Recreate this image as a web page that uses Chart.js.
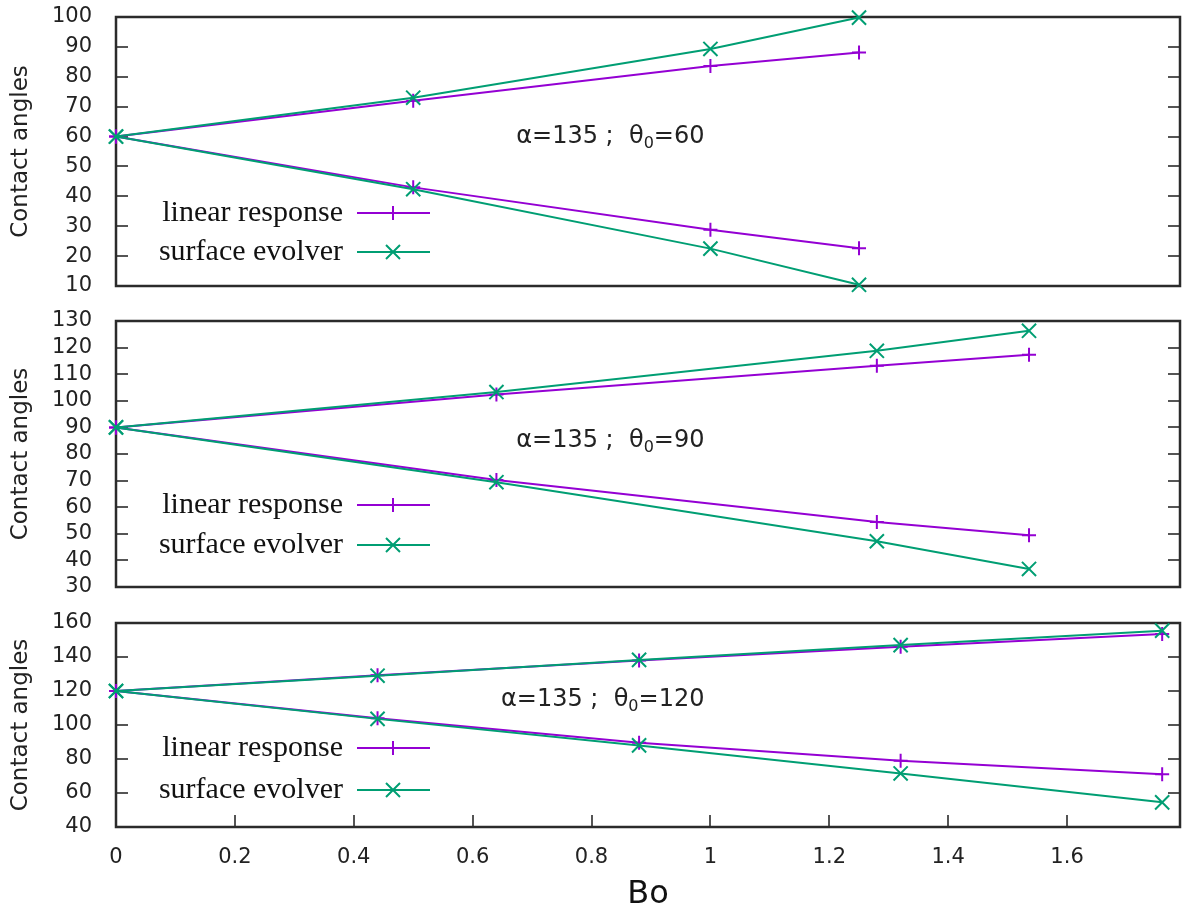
<!DOCTYPE html>
<html lang="en">
<head>
<meta charset="UTF-8">
<title>Contact angles vs Bo</title>
<script src="https://cdn.jsdelivr.net/npm/chart.js@4.4.9/dist/chart.umd.js"></script>
<style>
  body { margin: 0; background: #fff; }
  .panel { position: absolute; left: 0; width: 1182px; }
</style>
</head>
<body>
<div class="panel" style="top:0;height:300px"><canvas id="p1" width="1182" height="300"></canvas></div>
<div class="panel" style="top:300px;height:305px"><canvas id="p2" width="1182" height="305"></canvas></div>
<div class="panel" style="top:605px;height:308px"><canvas id="p3" width="1182" height="308"></canvas></div>
<script>
// --- data ---
const alpha = 135;

// theta0 = 60
const bo60 = [0, 0.5, 1.0, 1.25];
const linUp60 = [60, 72.0, 83.6, 88.1];
const linDown60 = [60, 43.0, 28.8, 22.6];
const seUp60 = [60, 73.0, 89.3, 99.8];
const seDown60 = [60, 42.4, 22.5, 10.4];

// theta0 = 90
const bo90 = [0, 0.64, 1.28, 1.536];
const linUp90 = [90, 102.4, 113.2, 117.3];
const linDown90 = [90, 70.2, 54.4, 49.5];
const seUp90 = [90, 103.3, 118.8, 126.3];
const seDown90 = [90, 69.4, 47.2, 36.8];

// theta0 = 120
const bo120 = [0, 0.44, 0.88, 1.32, 1.76];
const linUp120 = [120, 129.3, 138.0, 146.0, 153.5];
const linDown120 = [120, 104.0, 89.6, 79.0, 71.0];
const seUp120 = [120, 129.0, 138.3, 147.0, 155.5];
const seDown120 = [120, 103.6, 88.0, 71.5, 54.5];

const xTicks = [0, 0.2, 0.4, 0.6, 0.8, 1, 1.2, 1.4, 1.6];
const LIN = 'linear response', SE = 'surface evolver';
const purple = '#9400d3', green = '#009e73';

function pts(xs, ys) { return xs.map((x, i) => ({x: x, y: ys[i]})); }

function series(label, xs, ys) {
  const lin = label === LIN;
  return {
    label: label,
    data: pts(xs, ys),
    showLine: true,
    borderColor: lin ? purple : green,
    backgroundColor: lin ? purple : green,
    borderWidth: 2,
    pointStyle: lin ? 'cross' : 'crossRot',
    pointRadius: lin ? 7 : 10,
    pointBorderWidth: 2,
    pointHoverRadius: lin ? 7 : 10,
    clip: false,
    order: lin ? 1 : 0
  };
}

// frame, inward ticks and the alpha/theta label
const framePlugin = {
  id: 'frame',
  beforeDatasetsDraw(chart) {
    const {ctx, chartArea: a, scales: {x, y}} = chart;
    const o = chart.options.plugins.frame;
    ctx.save();
    ctx.strokeStyle = '#555';
    ctx.lineWidth = 2;
    ctx.beginPath();
    y.ticks.forEach(t => {
      const py = Math.round(y.getPixelForValue(t.value));
      ctx.moveTo(a.left, py); ctx.lineTo(a.left + 12, py);
      ctx.moveTo(a.right, py); ctx.lineTo(a.right - 12, py);
    });
    if (o.xTicks) {
      x.ticks.forEach(t => {
        const px = Math.round(x.getPixelForValue(t.value));
        ctx.moveTo(px, a.bottom); ctx.lineTo(px, a.bottom - 12);
      });
    }
    ctx.stroke();
    ctx.strokeStyle = '#2b2b2b';
    ctx.lineWidth = 2.5;
    ctx.strokeRect(a.left, a.top, a.right - a.left, a.bottom - a.top);

    // "α=135 ;  θ0=60"
    const p1 = 'α=' + alpha + ' ;  θ', sub = '0', p2 = '=' + o.theta0;
    const big = '24px "DejaVu Sans"', small = '16px "DejaVu Sans"';
    ctx.fillStyle = '#222';
    ctx.textBaseline = 'middle';
    ctx.textAlign = 'left';
    ctx.font = big;
    const w1 = ctx.measureText(p1).width, w3 = ctx.measureText(p2).width;
    ctx.font = small;
    const w2 = ctx.measureText(sub).width;
    let px = x.getPixelForValue(0.99) - (w1 + w2 + w3);
    const py = y.getPixelForValue(o.labelY);
    ctx.font = big;
    ctx.fillText(p1, px, py);
    ctx.font = small;
    ctx.fillText(sub, px + w1, py + 7);
    ctx.font = big;
    ctx.fillText(p2, px + w1 + w2, py);
    ctx.restore();
  },
  afterDatasetsDraw(chart) {
    // key in the lower left: text, then a sample line with its marker
    const {ctx, chartArea: a} = chart;
    const o = chart.options.plugins.frame;
    const seen = [];
    chart.data.datasets.forEach(d => { if (!seen.find(s => s.label === d.label)) seen.push(d); });
    seen.sort((p, q) => (p.label === LIN ? 0 : 1) - (q.label === LIN ? 0 : 1));
    ctx.save();
    seen.forEach((d, i) => {
      const ry = a.bottom - o.keyRows[i];
      ctx.font = '30px "Liberation Serif"';
      ctx.fillStyle = '#111';
      ctx.textAlign = 'right';
      ctx.textBaseline = 'middle';
      ctx.fillText(d.label, a.left + 227, ry);
      ctx.strokeStyle = d.borderColor;
      ctx.lineWidth = 2;
      ctx.beginPath();
      ctx.moveTo(a.left + 241, ry); ctx.lineTo(a.left + 314, ry);
      const cx = a.left + 277;
      if (d.pointStyle === 'cross') {
        ctx.moveTo(cx - 7, ry); ctx.lineTo(cx + 7, ry);
        ctx.moveTo(cx, ry - 7); ctx.lineTo(cx, ry + 7);
      } else {
        ctx.moveTo(cx - 7, ry - 7); ctx.lineTo(cx + 7, ry + 7);
        ctx.moveTo(cx - 7, ry + 7); ctx.lineTo(cx + 7, ry - 7);
      }
      ctx.stroke();
    });
    ctx.restore();
  }
};

function makePanel(id, p) {
  new Chart(document.getElementById(id), {
    type: 'scatter',
    data: {
      datasets: [
        series(LIN, p.bo, p.linUp),
        series(LIN, p.bo, p.linDown),
        series(SE, p.bo, p.seUp),
        series(SE, p.bo, p.seDown)
      ]
    },
    options: {
      responsive: false,
      animation: false,
      events: [],
      layout: { autoPadding: false, padding: { top: p.padTop, bottom: p.padBottom, right: 2, left: 0 } },
      plugins: {
        legend: { display: false },
        tooltip: { enabled: false },
        frame: { xTicks: p.showX, theta0: p.theta0, labelY: p.labelY, keyRows: p.keyRows }
      },
      scales: {
        x: {
          type: 'linear',
          min: 0,
          max: 1.79,
          display: p.showX,
          grid: { display: false },
          border: { display: false },
          afterBuildTicks: s => { s.ticks = xTicks.map(v => ({value: v})); },
          afterFit: s => {
            if (p.showX) s.height = 86;
            s.paddingLeft = 0; s.paddingRight = 0;
          },
          ticks: {
            autoSkip: false,
            maxRotation: 0,
            padding: 10,
            color: '#222',
            font: { family: 'DejaVu Sans', size: 21 },
            callback: v => String(+v.toFixed(1))
          },
          title: {
            display: true,
            text: 'Bo',
            color: '#111',
            font: { family: 'DejaVu Sans', size: 32, lineHeight: 1 },
            padding: { top: 0, bottom: 2 }
          }
        },
        y: {
          min: p.yMin,
          max: p.yMax,
          grid: { display: false },
          border: { display: false },
          afterFit: s => { s.width = 116; s.paddingTop = 0; s.paddingBottom = 0; },
          ticks: {
            autoSkip: false,
            stepSize: p.yStep,
            padding: 16,
            color: '#222',
            font: { family: 'DejaVu Sans', size: 21 }
          },
          title: {
            display: true,
            text: 'Contact angles',
            color: '#222',
            font: { family: 'DejaVu Sans', size: 23, lineHeight: 1 },
            padding: { top: 10, bottom: 0 }
          }
        }
      }
    },
    plugins: [framePlugin]
  });
}

makePanel('p1', { bo: bo60, linUp: linUp60, linDown: linDown60, seUp: seUp60, seDown: seDown60,
  theta0: 60, yMin: 10, yMax: 100, yStep: 10, padTop: 17, padBottom: 14, showX: false,
  labelY: 60, keyRows: [73, 34] });
makePanel('p2', { bo: bo90, linUp: linUp90, linDown: linDown90, seUp: seUp90, seDown: seDown90,
  theta0: 90, yMin: 30, yMax: 130, yStep: 10, padTop: 21, padBottom: 18, showX: false,
  labelY: 85, keyRows: [82, 42] });
makePanel('p3', { bo: bo120, linUp: linUp120, linDown: linDown120, seUp: seUp120, seDown: seDown120,
  theta0: 120, yMin: 40, yMax: 160, yStep: 20, padTop: 18, padBottom: 0, showX: true,
  labelY: 114.7, keyRows: [79, 37] });
</script>
</body>
</html>
